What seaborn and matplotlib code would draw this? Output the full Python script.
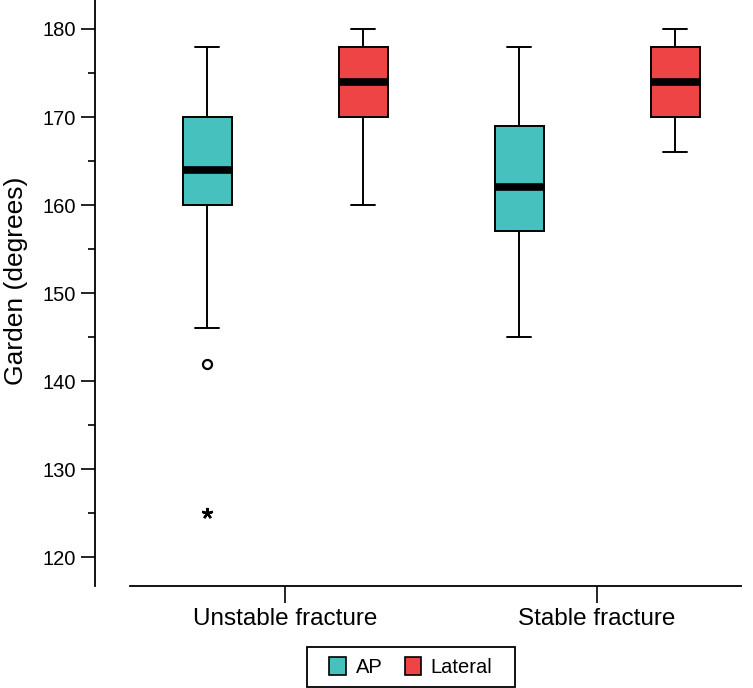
import numpy as np
import pandas as pd
import matplotlib
matplotlib.use("Agg")
import matplotlib.pyplot as plt
from matplotlib.patches import Rectangle
import seaborn as sns
from matplotlib.ticker import MultipleLocator

# ---- data ----
categories = ["Unstable fracture", "Stable fracture"]
sides = ["AP", "Lateral"]
# order: (Unstable, AP), (Unstable, Lateral), (Stable, AP), (Stable, Lateral)
group_cat = ["Unstable fracture", "Unstable fracture", "Stable fracture", "Stable fracture"]
group_side = ["AP", "Lateral", "AP", "Lateral"]
whisker_low = [146, 160, 145, 166]
q1 = [160, 170, 157, 170]
median = [164, 174, 162, 174]
q3 = [170, 178, 169, 178]
whisker_high = [178, 180, 178, 180]
# outliers
outlier_cat = ["Unstable fracture"]
outlier_side = ["AP"]
outlier_val = [142]
extreme_cat = ["Unstable fracture"]
extreme_side = ["AP"]
extreme_val = [125]

colors = {"AP": "#46C1BE", "Lateral": "#EE4446"}

rows = []
for c, s, a, b, m, d, e in zip(group_cat, group_side, whisker_low, q1, median, q3, whisker_high):
    for v in (a, b, m, d, e):
        rows.append({"Fracture": c, "Side": s, "Garden": v})
df = pd.DataFrame(rows)

sns.set_theme(style="ticks", rc={"text.color": "black", "axes.labelcolor": "black",
                                 "xtick.color": "black", "ytick.color": "black",
                                 "axes.edgecolor": "black"})
plt.rcParams["font.family"] = ["Liberation Sans", "DejaVu Sans"]

W, H = 753, 688
fig = plt.figure(figsize=(W / 100, H / 100), dpi=100)
ax = fig.add_axes([95 / W, (H - 586) / H, (741 - 95) / W, 586 / H])

box_width = 1.0
gap = 0.686
sns.boxplot(data=df, x="Fracture", y="Garden", hue="Side", order=categories,
            hue_order=sides, palette=colors, saturation=1, width=box_width, gap=gap,
            whis=(0, 100), showfliers=False, linecolor="black", linewidth=1.4,
            medianprops={"color": "black", "linewidth": 5.5, "solid_capstyle": "butt"},
            ax=ax)

def xpos(cat, side):
    n = len(sides)
    each = box_width / n
    return categories.index(cat) + each * sides.index(side) + each / 2 - box_width / 2

for c, s, v in zip(outlier_cat, outlier_side, outlier_val):
    ax.plot([xpos(c, s)], [v], marker="o", markersize=6.5, markerfacecolor="none",
            markeredgecolor="black", markeredgewidth=1.6, linestyle="none", zorder=5)
for c, s, v in zip(extreme_cat, extreme_side, extreme_val):
    ax.plot([xpos(c, s)], [v], marker=(5, 2, 0), markersize=8,
            markeredgecolor="black", markeredgewidth=1.7, linestyle="none", zorder=5)

ax.set_ylim(116.74, 183.29)
ax.set_xlim(-0.609, 1.4615)
ax.yaxis.set_major_locator(MultipleLocator(10))
ax.yaxis.set_minor_locator(MultipleLocator(5))
ax.set_yticks(np.arange(120, 181, 10))

for sp in ("top", "right"):
    ax.spines[sp].set_visible(False)
ax.spines["left"].set_linewidth(1.3)
ax.spines["bottom"].set_linewidth(1.3)
ax.spines["bottom"].set_bounds(-0.497, 1.4615)

ax.tick_params(axis="y", which="major", length=10, width=1.2, labelsize=14.5, pad=3.5, color="black")
ax.tick_params(axis="y", which="minor", length=5, width=1.2, color="black")
ax.tick_params(axis="x", which="major", length=12, width=1.2, labelsize=17.5, pad=4, color="black")

ax.set_xlabel("")
ax.set_ylabel("Garden (degrees)", fontsize=19)
ax.yaxis.set_label_coords(-0.104, 0.52)

handles, labels = ax.get_legend_handles_labels()
if ax.get_legend() is not None:
    ax.get_legend().remove()
for h in handles:
    try:
        h.set_edgecolor("black")
        h.set_linewidth(1.2)
    except Exception:
        pass
leg = fig.legend(handles, labels, loc="center", bbox_to_anchor=(411 / W, (H - 667) / H),
                 ncol=2, frameon=False, fontsize=14.5,
                 handlelength=0.8, handleheight=1.0, handletextpad=0.5,
                 columnspacing=1.1, borderpad=0.5)
frame = Rectangle((307 / W, (H - 687) / H), (515 - 307) / W, 40 / H,
                  transform=fig.transFigure, fill=False, edgecolor="black",
                  linewidth=1.3)
fig.add_artist(frame)

fig.savefig("out.png", dpi=100)
